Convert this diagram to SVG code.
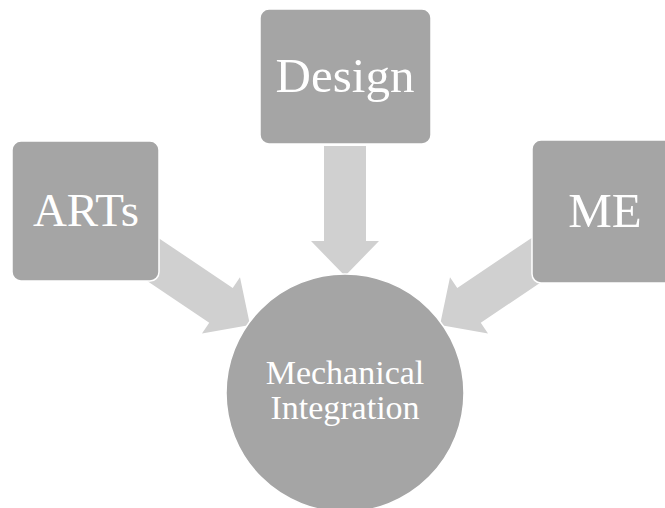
<svg xmlns="http://www.w3.org/2000/svg" width="665" height="508" viewBox="0 0 665 508">
  <style>
    .box { fill: #a5a5a5; stroke: #ffffff; stroke-width: 1.5; }
    .arrow { fill: #d0d0d0; }
    .lbl { fill: #ffffff; font-family: "Liberation Serif", "Times New Roman", serif; text-anchor: middle; }
  </style>
  <defs>
    <polygon id="arr" points="-130,-21 -35,-21 -35,-34 0,0 -35,34 -35,21 -130,21"/>
  </defs>
  <rect width="665" height="508" fill="#ffffff"/>
  <g id="connectors">
    <use href="#arr" class="arrow" transform="translate(250,325) rotate(34)"/>
    <use href="#arr" class="arrow" transform="translate(345,276) rotate(90)"/>
    <use href="#arr" class="arrow" transform="translate(440,325) rotate(146)"/>
  </g>
  <g id="arts">
    <rect class="box" x="12" y="141" width="147" height="140" rx="9"/>
    <text class="lbl" x="86" y="226" font-size="47">ARTs</text>
  </g>
  <g id="design">
    <rect class="box" x="260" y="9" width="171" height="135" rx="9"/>
    <text class="lbl" x="345" y="92" font-size="49">Design</text>
  </g>
  <g id="me">
    <rect class="box" x="532" y="140" width="147" height="143" rx="9"/>
    <text class="lbl" x="605" y="227" font-size="49">ME</text>
  </g>
  <g id="mech">
    <circle class="box" cx="345" cy="393" r="119" stroke="none"/>
    <text class="lbl" x="345" y="384" font-size="34">Mechanical</text>
    <text class="lbl" x="345" y="419" font-size="34">Integration</text>
  </g>
</svg>
